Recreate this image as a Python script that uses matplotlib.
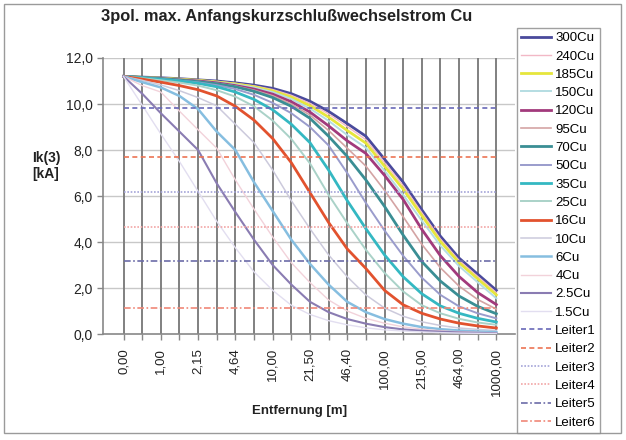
import matplotlib
matplotlib.use("Agg")
import matplotlib.pyplot as plt
import numpy as np
from matplotlib.patches import Rectangle

plt.rcParams['font.family'] = ['Liberation Sans', 'DejaVu Sans']

# categories (Entfernung in m), every second one gets a label
distances = ["0,00", "0,46", "1,00", "1,47", "2,15", "3,16", "4,64", "6,81", "10,00", "14,70", "21,50",
             "31,60", "46,40", "68,10", "100,00", "147,00", "215,00", "316,00", "464,00", "681,00", "1000,00"]

names = ["300Cu", "240Cu", "185Cu", "150Cu", "120Cu", "95Cu", "70Cu", "50Cu",
         "35Cu", "25Cu", "16Cu", "10Cu", "6Cu", "4Cu", "2.5Cu", "1.5Cu"]

ik_300 = [11.2, 11.17, 11.14, 11.1, 11.05, 11.0, 10.92, 10.82, 10.68, 10.45, 10.12, 9.68, 9.15, 8.6, 7.6, 6.6, 5.4, 4.25, 3.3, 2.6, 1.9]
ik_240 = [11.2, 11.17, 11.13, 11.09, 11.04, 10.98, 10.9, 10.79, 10.63, 10.38, 10.03, 9.57, 9.02, 8.45, 7.45, 6.45, 5.28, 4.13, 3.2, 2.5, 1.8]
ik_185 = [11.2, 11.16, 11.12, 11.08, 11.03, 10.96, 10.87, 10.75, 10.57, 10.3, 9.93, 9.43, 8.85, 8.3, 7.3, 6.3, 5.15, 4.02, 3.1, 2.4, 1.7]
ik_150 = [11.2, 11.16, 11.12, 11.07, 11.02, 10.95, 10.85, 10.72, 10.52, 10.22, 9.8, 9.27, 8.65, 8.1, 7.1, 6.05, 4.93, 3.84, 2.95, 2.25, 1.55]
ik_120 = [11.2, 11.15, 11.1, 11.05, 11.0, 10.92, 10.8, 10.65, 10.43, 10.1, 9.65, 9.05, 8.4, 7.85, 6.9, 5.85, 4.55, 3.4, 2.5, 1.8, 1.28]
ik_95 = [11.2, 11.15, 11.1, 11.05, 10.99, 10.9, 10.78, 10.6, 10.36, 10.0, 9.52, 8.85, 8.08, 7.3, 6.25, 5.1, 3.9, 2.88, 2.08, 1.5, 1.08]
ik_70 = [11.2, 11.15, 11.1, 11.04, 10.97, 10.88, 10.75, 10.55, 10.28, 9.9, 9.38, 8.6, 7.72, 6.7, 5.55, 4.3, 3.15, 2.3, 1.65, 1.2, 0.88]
ik_50 = [11.2, 11.15, 11.09, 11.02, 10.94, 10.82, 10.65, 10.4, 10.05, 9.6, 9.0, 8.2, 7.0, 5.7, 4.5, 3.4, 2.45, 1.7, 1.2, 0.9, 0.68]
ik_35 = [11.2, 11.14, 11.07, 11.0, 10.9, 10.75, 10.52, 10.2, 9.75, 9.12, 8.32, 7.13, 5.8, 4.58, 3.44, 2.49, 1.75, 1.22, 0.9, 0.68, 0.52]
ik_25 = [11.2, 11.12, 11.03, 10.93, 10.8, 10.6, 10.32, 9.9, 9.28, 8.48, 7.42, 6.05, 4.82, 3.66, 2.66, 1.85, 1.25, 0.9, 0.66, 0.5, 0.4]
ik_16 = [11.2, 11.08, 10.95, 10.8, 10.62, 10.35, 9.9, 9.3, 8.5, 7.45, 6.15, 4.85, 3.7, 2.85, 1.9, 1.27, 0.9, 0.65, 0.47, 0.35, 0.26]
ik_10 = [11.2, 11.03, 10.83, 10.58, 10.28, 9.92, 9.12, 8.32, 7.13, 5.8, 4.58, 3.44, 2.49, 1.7, 1.13, 0.77, 0.53, 0.37, 0.26, 0.2, 0.15]
ik_6 = [11.2, 10.95, 10.72, 10.35, 9.78, 8.8, 8.0, 6.6, 5.35, 4.1, 3.05, 2.15, 1.4, 0.95, 0.65, 0.45, 0.3, 0.21, 0.15, 0.11, 0.08]
ik_4 = [11.2, 10.8, 10.52, 9.69, 8.88, 8.08, 6.7, 5.43, 4.22, 3.1, 2.24, 1.48, 1.0, 0.68, 0.47, 0.31, 0.21, 0.14, 0.1, 0.07, 0.05]
ik_2_5 = [11.2, 10.45, 9.6, 8.8, 8.0, 6.55, 5.3, 4.1, 3.0, 2.15, 1.4, 0.95, 0.65, 0.45, 0.3, 0.2, 0.14, 0.1, 0.07, 0.05, 0.03]
ik_1_5 = [11.2, 9.95, 8.7, 7.5, 6.2, 4.9, 3.75, 2.7, 1.9, 1.25, 0.85, 0.58, 0.4, 0.27, 0.18, 0.13, 0.09, 0.06, 0.04, 0.03, 0.02]

curves = [ik_300, ik_240, ik_185, ik_150, ik_120, ik_95, ik_70, ik_50,
          ik_35, ik_25, ik_16, ik_10, ik_6, ik_4, ik_2_5, ik_1_5]

leiter_names = ["Leiter1", "Leiter2", "Leiter3", "Leiter4", "Leiter5", "Leiter6"]
leiter_levels = [9.83, 7.7, 6.17, 4.65, 3.17, 1.13]

colors = ["#4a4a9c", "#f2b8c6", "#e6e63c", "#b4dde2", "#a23a7c", "#d4a4a4", "#3a8e94", "#9a9ccc",
          "#34b8c2", "#aad2c8", "#e2522e", "#cccadc", "#86bee0", "#f2d2da", "#8a7cb2", "#e2def0"]
widths = [2.0, 1.0, 2.0, 1.4, 2.0, 1.2, 2.0, 1.4, 2.0, 1.4, 2.0, 1.1, 1.8, 1.0, 1.5, 1.0]

leiter_colors = ["#6868b8", "#ec7454", "#a4a4d8", "#f2a6a6", "#6c6ca8", "#f08878"]
leiter_styles = [(0, (3, 2)), (0, (3, 2)), (0, (1, 1)), (0, (1, 1)), (0, (4, 1.5, 1, 1.5)), (0, (4, 1.5, 1, 1.5))]

fig = plt.figure(figsize=(6.26, 4.4), dpi=100)
ax = fig.add_axes([103 / 626, 1 - 334 / 440, 412 / 626, 276 / 440])

x = np.arange(len(distances))

for name, vals, c, lw in zip(names, curves, colors, widths):
    ax.plot(x, vals, color=c, lw=lw, label=name, zorder=3)

for name, lev, c, ls in zip(leiter_names, leiter_levels, leiter_colors, leiter_styles):
    ax.plot(x, np.full(len(x), lev), color=c, lw=1.2, ls=ls, label=name, zorder=4)

# grid: light horizontal, dark vertical at every category
for yv in np.arange(2, 13, 2):
    ax.axhline(yv, color="#c8c8c8", lw=1.0, zorder=1)
for xv in x:
    ax.axvline(xv, color="#808080", lw=1.4, zorder=1)

ax.set_xlim(-1.1, 21.0)
ax.set_ylim(0, 12)
ax.set_yticks(np.arange(0, 13, 2))
ax.set_yticklabels([f"{v:.1f}".replace(".", ",") for v in np.arange(0, 13, 2)], fontsize=10, color="#222222")
ax.set_xticks(x)
ax.set_xticklabels([d if i % 2 == 0 else "" for i, d in enumerate(distances)],
                   rotation=90, fontsize=9.5, color="#222222")
ax.tick_params(axis="both", color="#888888", length=4, width=1)
ax.tick_params(axis="x", pad=6)
for s in ["top", "right"]:
    ax.spines[s].set_visible(False)
for s in ["left", "bottom"]:
    ax.spines[s].set_color("#888888")
    ax.spines[s].set_linewidth(1.2)

fig.text(287 / 626, 1 - 17 / 440, "3pol. max. Anfangskurzschlußwechselstrom Cu",
         ha="center", va="center", fontsize=11.8, fontweight="bold", color="#222222")
fig.text(300 / 626, 1 - 411 / 440, "Entfernung [m]", ha="center", va="center",
         fontsize=9.5, fontweight="bold", color="#222222")
fig.text(46 / 626, 1 - 166 / 440, "Ik(3)\n[kA]", ha="center", va="center",
         fontsize=10, fontweight="bold", color="#222222", linespacing=1.1)

# outer chart frame
fig.patches.append(Rectangle((4 / 626, 1 - 433 / 440), 617 / 626, 429 / 440,
                             transform=fig.transFigure, fill=False, edgecolor="#9a9a9a", lw=1.0))

h, l = ax.get_legend_handles_labels()
leg = fig.legend(h, l, loc="upper left", bbox_to_anchor=(517 / 626, 1 - 28 / 440),
                 fontsize=9.5, frameon=True, fancybox=False, edgecolor="#888888",
                 labelspacing=0.46, handlelength=2.3, handletextpad=0.3,
                 borderpad=0.3, borderaxespad=0)
leg.get_frame().set_linewidth(1.0)

fig.savefig("out.png", dpi=100)
